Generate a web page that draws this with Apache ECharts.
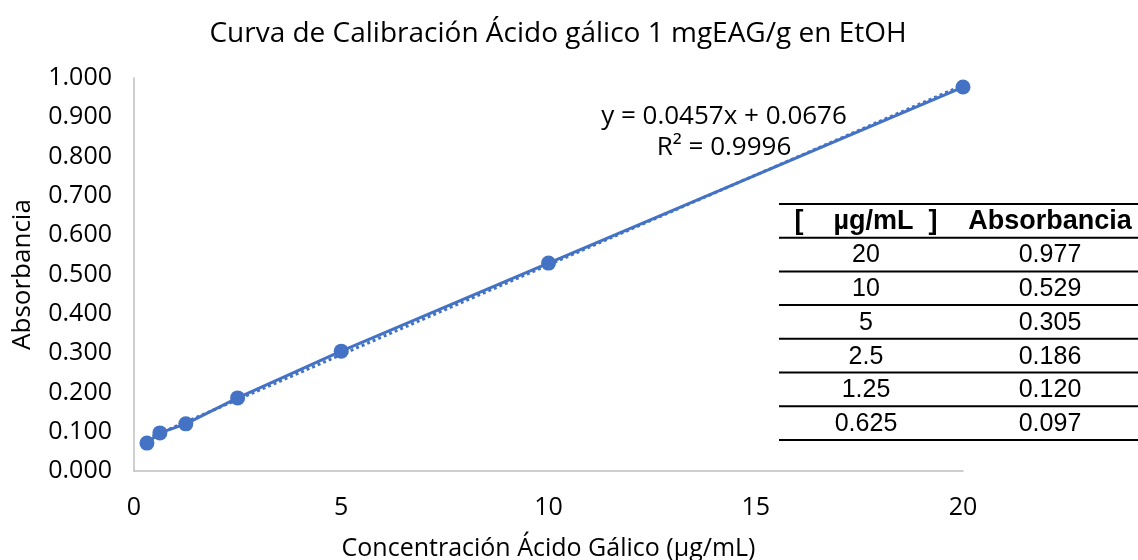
<!DOCTYPE html>
<html><head><meta charset="utf-8">
<script src="https://cdn.jsdelivr.net/npm/echarts@6/dist/echarts.min.js"></script>
<style>html,body{margin:0;padding:0;background:#fff}#c{width:1138px;height:560px}</style>
</head><body><div id="c"></div>
<script>
// Data points (concentration µg/mL, absorbance)
const concentrations = [0.3125, 0.625, 1.25, 2.5, 5, 10, 20];
const absorbances = [0.071, 0.097, 0.120, 0.186, 0.305, 0.529, 0.977];
// Linear trendline as displayed in the chart
const trendSlope = 0.0457;
const trendIntercept = 0.0676;
const trendRange = [0.3125, 20];
const equationLines = ['y = 0.0457x + 0.0676', 'R² = 0.9996'];
// Inset table
const tableHeader = ['[    µg/mL  ]', 'Absorbancia'];
const tableConc = ['20', '10', '5', '2.5', '1.25', '0.625'];
const tableAbs = ['0.977', '0.529', '0.305', '0.186', '0.120', '0.097'];

const FONT = '"Open Sans", "Noto Sans", sans-serif';
const TFONT = '"Liberation Sans", Arial, sans-serif';
const blue = '#4472C4';

const pts = concentrations.map((x, i) => [x, absorbances[i]]);
const trend = trendRange.map(x => [x, trendSlope * x + trendIntercept]);

// table graphic
const tbl = [];
const tLeft = 779, tRight = 1138, tTop = 204, rowH = 33.7;
const col1 = 866, col2 = 1050;
for (let i = 0; i <= tableConc.length + 1; i++) {
  const y = tTop + i * rowH;
  tbl.push({type: 'line', shape: {x1: tLeft, y1: y, x2: tRight, y2: y}, style: {stroke: '#000', lineWidth: 2}});
}
tbl.push({type: 'text', x: col1, y: tTop + rowH / 2 + 1, style: {text: tableHeader[0], font: 'bold 27px ' + TFONT, fill: '#000', align: 'center', verticalAlign: 'middle'}});
tbl.push({type: 'text', x: col2, y: tTop + rowH / 2 + 1, style: {text: tableHeader[1], font: 'bold 27px ' + TFONT, fill: '#000', align: 'center', verticalAlign: 'middle'}});
tableConc.forEach((c, i) => {
  const y = tTop + rowH * (i + 1.5) + 1;
  tbl.push({type: 'text', x: col1, y: y, style: {text: c, font: '25px ' + TFONT, fill: '#000', align: 'center', verticalAlign: 'middle'}});
  tbl.push({type: 'text', x: col2, y: y, style: {text: tableAbs[i], font: '25px ' + TFONT, fill: '#000', align: 'center', verticalAlign: 'middle'}});
});
tbl.push({type: 'text', x: 724, y: 117, style: {text: equationLines[0], font: '26px ' + FONT, fill: '#000', align: 'center', verticalAlign: 'middle'}});
tbl.push({type: 'text', x: 724, y: 148, style: {text: equationLines[1], font: '26px ' + FONT, fill: '#000', align: 'center', verticalAlign: 'middle'}});

const chart = echarts.init(document.getElementById('c'), null, {renderer: 'canvas'});
chart.setOption({
  animation: false,
  backgroundColor: '#fff',
  title: {
    text: 'Curva de Calibración Ácido gálico 1 mgEAG/g en EtOH',
    left: 553, top: 15, textAlign: 'center',
    textStyle: {fontFamily: FONT, fontSize: 28, fontWeight: 'normal', color: '#000'}
  },
  grid: {left: 134, right: 175, top: 78, bottom: 89, outerBoundsMode: 'none', containLabel: false},
  xAxis: {
    type: 'value', min: 0, max: 20, interval: 5,
    name: 'Concentración Ácido Gálico (µg/mL)', nameLocation: 'middle', nameGap: 65,
    nameTextStyle: {fontFamily: FONT, fontSize: 25, color: '#000'},
    axisLine: {show: true, lineStyle: {color: '#BFBFBF', width: 1.5}},
    axisTick: {show: false},
    splitLine: {show: false},
    axisLabel: {fontFamily: FONT, fontSize: 25, color: '#000', margin: 24}
  },
  yAxis: {
    type: 'value', min: 0, max: 1, interval: 0.1,
    name: 'Absorbancia', nameLocation: 'middle', nameGap: 98,
    nameTextStyle: {fontFamily: FONT, fontSize: 26, color: '#000'},
    axisLine: {show: true, lineStyle: {color: '#BFBFBF', width: 1.5}},
    axisTick: {show: false},
    splitLine: {show: false},
    axisLabel: {fontFamily: FONT, fontSize: 25, color: '#000', margin: 22, formatter: v => v.toFixed(3)}
  },
  series: [
    {
      type: 'line', data: pts, symbol: 'circle', symbolSize: 15,
      itemStyle: {color: blue}, lineStyle: {color: blue, width: 3}, z: 2
    },
    {
      type: 'line', data: trend, symbol: 'none',
      lineStyle: {color: blue, width: 3, type: 'dotted'}, z: 3, silent: true
    }
  ],
  graphic: tbl
});
</script>
</body></html>
